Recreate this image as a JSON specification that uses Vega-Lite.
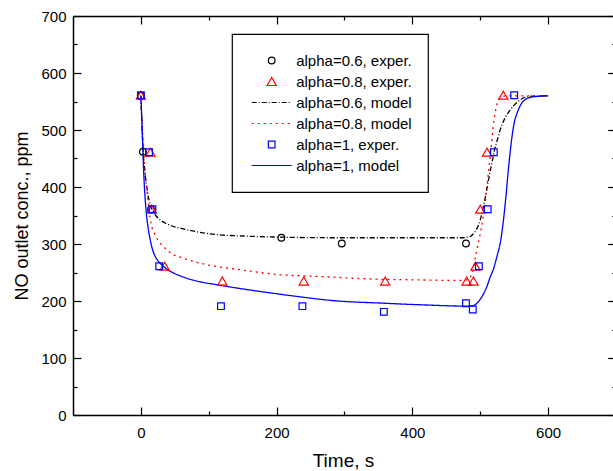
{
  "$schema": "https://vega.github.io/schema/vega-lite/v6.json",
  "width": 540,
  "height": 399,
  "autosize": {"type": "none"},
  "padding": {"left": 73, "top": 16, "right": 0, "bottom": 56},
  "background": "white",
  "datasets": {
    "exp": [
      {"s": "alpha=0.6, exper.", "t": 0, "c": 560},
      {"s": "alpha=0.6, exper.", "t": 3, "c": 462},
      {"s": "alpha=0.6, exper.", "t": 15, "c": 361},
      {"s": "alpha=0.6, exper.", "t": 207, "c": 311},
      {"s": "alpha=0.6, exper.", "t": 296, "c": 301},
      {"s": "alpha=0.6, exper.", "t": 479, "c": 301},
      {"s": "alpha=0.8, exper.", "t": 0, "c": 561},
      {"s": "alpha=0.8, exper.", "t": 14, "c": 461},
      {"s": "alpha=0.8, exper.", "t": 16, "c": 361},
      {"s": "alpha=0.8, exper.", "t": 35, "c": 261},
      {"s": "alpha=0.8, exper.", "t": 120, "c": 235},
      {"s": "alpha=0.8, exper.", "t": 240, "c": 235},
      {"s": "alpha=0.8, exper.", "t": 360, "c": 235},
      {"s": "alpha=0.8, exper.", "t": 480, "c": 235},
      {"s": "alpha=0.8, exper.", "t": 490, "c": 235},
      {"s": "alpha=0.8, exper.", "t": 493, "c": 261},
      {"s": "alpha=0.8, exper.", "t": 500, "c": 361},
      {"s": "alpha=0.8, exper.", "t": 510, "c": 461},
      {"s": "alpha=0.8, exper.", "t": 534, "c": 561},
      {"s": "alpha=1, exper.", "t": 0, "c": 561},
      {"s": "alpha=1, exper.", "t": 12, "c": 461},
      {"s": "alpha=1, exper.", "t": 17, "c": 361},
      {"s": "alpha=1, exper.", "t": 27, "c": 261},
      {"s": "alpha=1, exper.", "t": 118, "c": 191},
      {"s": "alpha=1, exper.", "t": 238, "c": 191},
      {"s": "alpha=1, exper.", "t": 358, "c": 181},
      {"s": "alpha=1, exper.", "t": 479, "c": 196},
      {"s": "alpha=1, exper.", "t": 489, "c": 185},
      {"s": "alpha=1, exper.", "t": 498, "c": 261},
      {"s": "alpha=1, exper.", "t": 511, "c": 361},
      {"s": "alpha=1, exper.", "t": 520, "c": 461},
      {"s": "alpha=1, exper.", "t": 550, "c": 561}
    ],
    "model": [
      {"s": "alpha=0.6, model", "t": 0, "c": 560},
      {"s": "alpha=0.6, model", "t": 3, "c": 470},
      {"s": "alpha=0.6, model", "t": 6, "c": 425},
      {"s": "alpha=0.6, model", "t": 8, "c": 405},
      {"s": "alpha=0.6, model", "t": 10, "c": 390},
      {"s": "alpha=0.6, model", "t": 12, "c": 377},
      {"s": "alpha=0.6, model", "t": 15, "c": 365},
      {"s": "alpha=0.6, model", "t": 22, "c": 350},
      {"s": "alpha=0.6, model", "t": 30, "c": 341},
      {"s": "alpha=0.6, model", "t": 37, "c": 336},
      {"s": "alpha=0.6, model", "t": 45, "c": 332},
      {"s": "alpha=0.6, model", "t": 61, "c": 327},
      {"s": "alpha=0.6, model", "t": 80, "c": 322},
      {"s": "alpha=0.6, model", "t": 100, "c": 318},
      {"s": "alpha=0.6, model", "t": 116, "c": 316},
      {"s": "alpha=0.6, model", "t": 150, "c": 314},
      {"s": "alpha=0.6, model", "t": 207, "c": 312},
      {"s": "alpha=0.6, model", "t": 280, "c": 311},
      {"s": "alpha=0.6, model", "t": 400, "c": 311},
      {"s": "alpha=0.6, model", "t": 475, "c": 311},
      {"s": "alpha=0.6, model", "t": 485, "c": 313},
      {"s": "alpha=0.6, model", "t": 490, "c": 318},
      {"s": "alpha=0.6, model", "t": 495, "c": 327},
      {"s": "alpha=0.6, model", "t": 500, "c": 342},
      {"s": "alpha=0.6, model", "t": 504, "c": 362},
      {"s": "alpha=0.6, model", "t": 510, "c": 398},
      {"s": "alpha=0.6, model", "t": 514, "c": 424},
      {"s": "alpha=0.6, model", "t": 518, "c": 447},
      {"s": "alpha=0.6, model", "t": 521, "c": 465},
      {"s": "alpha=0.6, model", "t": 526, "c": 486},
      {"s": "alpha=0.6, model", "t": 531, "c": 506},
      {"s": "alpha=0.6, model", "t": 537, "c": 522},
      {"s": "alpha=0.6, model", "t": 544, "c": 535},
      {"s": "alpha=0.6, model", "t": 551, "c": 545},
      {"s": "alpha=0.6, model", "t": 558, "c": 552},
      {"s": "alpha=0.6, model", "t": 565, "c": 557},
      {"s": "alpha=0.6, model", "t": 573, "c": 559},
      {"s": "alpha=0.6, model", "t": 585, "c": 560},
      {"s": "alpha=0.6, model", "t": 600, "c": 560},
      {"s": "alpha=0.8, model", "t": 0, "c": 560},
      {"s": "alpha=0.8, model", "t": 3, "c": 480},
      {"s": "alpha=0.8, model", "t": 6, "c": 430},
      {"s": "alpha=0.8, model", "t": 8, "c": 405},
      {"s": "alpha=0.8, model", "t": 10, "c": 382},
      {"s": "alpha=0.8, model", "t": 12, "c": 360},
      {"s": "alpha=0.8, model", "t": 15, "c": 336},
      {"s": "alpha=0.8, model", "t": 20, "c": 318},
      {"s": "alpha=0.8, model", "t": 25, "c": 307},
      {"s": "alpha=0.8, model", "t": 32, "c": 297},
      {"s": "alpha=0.8, model", "t": 40, "c": 288},
      {"s": "alpha=0.8, model", "t": 47, "c": 282},
      {"s": "alpha=0.8, model", "t": 60, "c": 276},
      {"s": "alpha=0.8, model", "t": 71, "c": 272},
      {"s": "alpha=0.8, model", "t": 85, "c": 267},
      {"s": "alpha=0.8, model", "t": 100, "c": 263},
      {"s": "alpha=0.8, model", "t": 125, "c": 258},
      {"s": "alpha=0.8, model", "t": 145, "c": 255},
      {"s": "alpha=0.8, model", "t": 175, "c": 250},
      {"s": "alpha=0.8, model", "t": 205, "c": 246},
      {"s": "alpha=0.8, model", "t": 240, "c": 244},
      {"s": "alpha=0.8, model", "t": 280, "c": 242},
      {"s": "alpha=0.8, model", "t": 330, "c": 239},
      {"s": "alpha=0.8, model", "t": 410, "c": 237},
      {"s": "alpha=0.8, model", "t": 470, "c": 236},
      {"s": "alpha=0.8, model", "t": 480, "c": 237},
      {"s": "alpha=0.8, model", "t": 486, "c": 243},
      {"s": "alpha=0.8, model", "t": 490, "c": 258},
      {"s": "alpha=0.8, model", "t": 493, "c": 278},
      {"s": "alpha=0.8, model", "t": 496, "c": 295},
      {"s": "alpha=0.8, model", "t": 499, "c": 312},
      {"s": "alpha=0.8, model", "t": 504, "c": 345},
      {"s": "alpha=0.8, model", "t": 508, "c": 380},
      {"s": "alpha=0.8, model", "t": 511, "c": 415},
      {"s": "alpha=0.8, model", "t": 514, "c": 447},
      {"s": "alpha=0.8, model", "t": 517, "c": 480},
      {"s": "alpha=0.8, model", "t": 519, "c": 505},
      {"s": "alpha=0.8, model", "t": 522, "c": 530},
      {"s": "alpha=0.8, model", "t": 525, "c": 547},
      {"s": "alpha=0.8, model", "t": 530, "c": 557},
      {"s": "alpha=0.8, model", "t": 540, "c": 560},
      {"s": "alpha=0.8, model", "t": 570, "c": 560},
      {"s": "alpha=0.8, model", "t": 600, "c": 560},
      {"s": "alpha=1, model", "t": 0, "c": 560},
      {"s": "alpha=1, model", "t": 2, "c": 500},
      {"s": "alpha=1, model", "t": 4, "c": 430},
      {"s": "alpha=1, model", "t": 6, "c": 385},
      {"s": "alpha=1, model", "t": 8, "c": 355},
      {"s": "alpha=1, model", "t": 11, "c": 326},
      {"s": "alpha=1, model", "t": 14, "c": 306},
      {"s": "alpha=1, model", "t": 17, "c": 291},
      {"s": "alpha=1, model", "t": 20, "c": 281},
      {"s": "alpha=1, model", "t": 25, "c": 271},
      {"s": "alpha=1, model", "t": 32, "c": 262},
      {"s": "alpha=1, model", "t": 37, "c": 257},
      {"s": "alpha=1, model", "t": 45, "c": 251},
      {"s": "alpha=1, model", "t": 56, "c": 245},
      {"s": "alpha=1, model", "t": 70, "c": 239},
      {"s": "alpha=1, model", "t": 90, "c": 233},
      {"s": "alpha=1, model", "t": 110, "c": 229},
      {"s": "alpha=1, model", "t": 140, "c": 223},
      {"s": "alpha=1, model", "t": 180, "c": 216},
      {"s": "alpha=1, model", "t": 230, "c": 208},
      {"s": "alpha=1, model", "t": 280, "c": 201},
      {"s": "alpha=1, model", "t": 360, "c": 196},
      {"s": "alpha=1, model", "t": 420, "c": 193},
      {"s": "alpha=1, model", "t": 480, "c": 191},
      {"s": "alpha=1, model", "t": 490, "c": 192},
      {"s": "alpha=1, model", "t": 495, "c": 196},
      {"s": "alpha=1, model", "t": 500, "c": 203},
      {"s": "alpha=1, model", "t": 505, "c": 213},
      {"s": "alpha=1, model", "t": 510, "c": 226},
      {"s": "alpha=1, model", "t": 515, "c": 243},
      {"s": "alpha=1, model", "t": 520, "c": 258},
      {"s": "alpha=1, model", "t": 525, "c": 280},
      {"s": "alpha=1, model", "t": 530, "c": 305},
      {"s": "alpha=1, model", "t": 534, "c": 340},
      {"s": "alpha=1, model", "t": 538, "c": 385},
      {"s": "alpha=1, model", "t": 541, "c": 425},
      {"s": "alpha=1, model", "t": 544, "c": 460},
      {"s": "alpha=1, model", "t": 547, "c": 490},
      {"s": "alpha=1, model", "t": 550, "c": 512},
      {"s": "alpha=1, model", "t": 555, "c": 532},
      {"s": "alpha=1, model", "t": 561, "c": 547},
      {"s": "alpha=1, model", "t": 567, "c": 554},
      {"s": "alpha=1, model", "t": 573, "c": 557},
      {"s": "alpha=1, model", "t": 585, "c": 559},
      {"s": "alpha=1, model", "t": 600, "c": 560}
    ]
  },
  "layer": [
    {
      "data": {"name": "model"},
      "mark": {"type": "line", "interpolate": "monotone", "strokeWidth": 1.3},
      "encoding": {
        "x": {"field": "t", "type": "quantitative",
          "scale": {"domain": [-100, 695.6], "nice": false, "zero": false},
          "axis": {"orient": "bottom", "values": [0, 200, 400, 600], "tickSize": -8, "labelPadding": 18, "title": "Time, s", "titlePadding": 11, "titleFontSize": 19}},
        "y": {"field": "c", "type": "quantitative",
          "scale": {"domain": [0, 700], "nice": false, "zero": false},
          "axis": {"orient": "left", "values": [0, 100, 200, 300, 400, 500, 600, 700], "tickSize": -8, "labelPadding": 15, "title": "NO outlet conc., ppm", "titlePadding": 9, "titleFontSize": 18}},
        "color": {"field": "s", "type": "nominal",
          "scale": {"domain": ["alpha=0.6, exper.", "alpha=0.8, exper.", "alpha=0.6, model", "alpha=0.8, model", "alpha=1, exper.", "alpha=1, model"],
                    "range": ["#000000", "#ff0000", "#000000", "#ff0000", "#0000ff", "#0000ff"]},
          "legend": {
            "title": null, "orient": "none", "legendX": 159, "legendY": 18,
            "padding": 16, "strokeColor": "#000000", "fillColor": "#ffffff",
            "clipHeight": 21, "rowPadding": 0, "symbolOffset": 2.7, "labelOffset": 3.5,
            "labelFont": "Liberation Sans", "labelFontSize": 15, "labelColor": "#000000", "labelLimit": 300,
            "symbolStrokeWidth": 1.2,
            "encode": {
              "legend": {"update": {"strokeWidth": {"value": 1.2}}},
              "labels": {"update": {"text": {"signal": "datum.label + '\u00a0\u00a0'"}}},
              "symbols": {"update": {
                "shape": {"signal": "datum.value == 'alpha=0.6, exper.' ? 'circle' : datum.value == 'alpha=0.8, exper.' ? 'triangle-up' : datum.value == 'alpha=1, exper.' ? 'square' : 'stroke'"},
                "size": {"signal": "datum.value == 'alpha=0.6, exper.' ? 45 : datum.value == 'alpha=0.8, exper.' ? 85 : datum.value == 'alpha=1, exper.' ? 45 : 1600"},
                "strokeDash": {"signal": "datum.value == 'alpha=0.6, model' ? [5,2,1,2] : datum.value == 'alpha=0.8, model' ? [2,4] : []"},
                "stroke": {"signal": "indexof(datum.value, 'alpha=1') == 0 ? '#0000ff' : indexof(datum.value, 'alpha=0.8') == 0 ? '#ff0000' : '#000000'"},
                "fill": {"value": "transparent"},
                "strokeWidth": {"value": 1.2},
                "opacity": {"value": 1}
              }}
            }
          }},
        "strokeDash": {"field": "s", "type": "nominal",
          "scale": {"domain": ["alpha=0.6, model", "alpha=0.8, model", "alpha=1, model"], "range": [[5, 2, 1, 2], [2, 4], [1, 0]]},
          "legend": null}
      }
    },
    {
      "data": {"name": "exp"},
      "mark": {"type": "point", "filled": false, "strokeWidth": 1.2, "opacity": 1},
      "encoding": {
        "x": {"field": "t", "type": "quantitative",
          "scale": {"domain": [-100, 695.6], "nice": false, "zero": false},
          "axis": {"orient": "top", "values": [0, 200, 400, 600], "tickSize": -8, "labels": false, "title": null}},
        "y": {"field": "c", "type": "quantitative",
          "scale": {"domain": [0, 700], "nice": false, "zero": false},
          "axis": {"orient": "right", "offset": 2.7, "values": [0, 100, 200, 300, 400, 500, 600, 700], "tickSize": -8, "labels": false, "title": null}},
        "color": {"field": "s", "type": "nominal",
          "scale": {"domain": ["alpha=0.6, exper.", "alpha=0.8, exper.", "alpha=0.6, model", "alpha=0.8, model", "alpha=1, exper.", "alpha=1, model"],
                    "range": ["#000000", "#ff0000", "#000000", "#ff0000", "#0000ff", "#0000ff"]}},
        "shape": {"field": "s", "type": "nominal",
          "scale": {"domain": ["alpha=0.6, exper.", "alpha=0.8, exper.", "alpha=1, exper."], "range": ["circle", "triangle-up", "square"]},
          "legend": null},
        "size": {"field": "s", "type": "nominal",
          "scale": {"type": "ordinal", "domain": ["alpha=0.6, exper.", "alpha=0.8, exper.", "alpha=1, exper."], "range": [45, 85, 45]},
          "legend": null}
      }
    },
    {
      "data": {"name": "exp"},
      "mark": {"type": "point", "opacity": 0},
      "encoding": {
        "x": {"field": "t", "type": "quantitative",
          "scale": {"domain": [-100, 695.6], "nice": false, "zero": false},
          "axis": {"orient": "bottom", "values": [100, 300, 500], "tickSize": -4, "labels": false, "domain": false, "title": null}},
        "y": {"field": "c", "type": "quantitative",
          "scale": {"domain": [0, 700], "nice": false, "zero": false},
          "axis": {"orient": "left", "values": [50, 150, 250, 350, 450, 550, 650], "tickSize": -4, "labels": false, "domain": false, "title": null}}
      }
    },
    {
      "data": {"name": "exp"},
      "mark": {"type": "point", "opacity": 0},
      "encoding": {
        "x": {"field": "t", "type": "quantitative",
          "scale": {"domain": [-100, 695.6], "nice": false, "zero": false},
          "axis": {"orient": "top", "values": [100, 300, 500], "tickSize": -4, "labels": false, "domain": false, "title": null}},
        "y": {"field": "c", "type": "quantitative",
          "scale": {"domain": [0, 700], "nice": false, "zero": false},
          "axis": {"orient": "right", "offset": 2.7, "values": [50, 150, 250, 350, 450, 550, 650], "tickSize": -4, "labels": false, "domain": false, "title": null}}
      }
    }
  ],
  "resolve": {"axis": {"x": "independent", "y": "independent"}},
  "config": {
    "view": {"stroke": null},
    "axis": {
      "grid": false,
      "labelFont": "Liberation Sans", "labelFontSize": 15, "labelColor": "#000000",
      "titleFont": "Liberation Sans", "titleFontWeight": "normal", "titleColor": "#000000",
      "domainColor": "#000000", "domainWidth": 1.5,
      "tickColor": "#000000", "tickWidth": 1.2
    }
  }
}
